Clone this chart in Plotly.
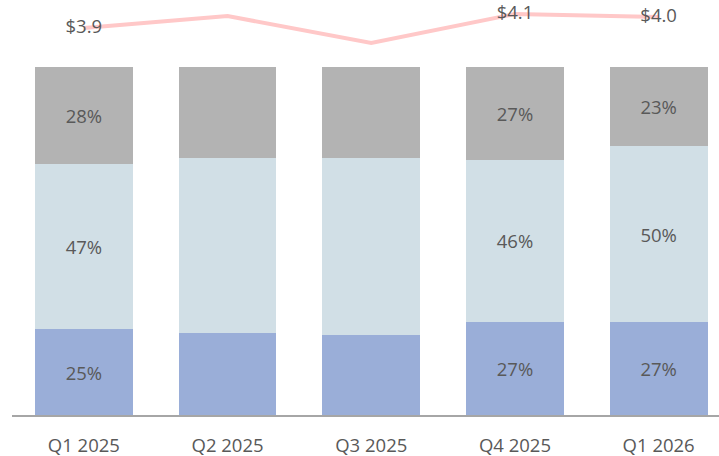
import plotly.graph_objects as go

quarters = ['Q1 2025', 'Q2 2025', 'Q3 2025', 'Q4 2025', 'Q1 2026']
share_bottom = [0.247, 0.236, 0.23, 0.267, 0.267]
share_middle = [0.474, 0.502, 0.509, 0.466, 0.506]
share_top = [0.279, 0.262, 0.261, 0.267, 0.227]
labels_bottom = ['25%', '', '', '27%', '27%']
labels_middle = ['47%', '', '', '46%', '50%']
labels_top = ['28%', '', '', '27%', '23%']
price = [3.92, 4.04, 3.77, 4.06, 4.03]
price_labels = ['$3.9', '', '', '$4.1', '$4.0']

font_txt = dict(family='Open Sans, sans-serif', size=18.5, color='#595959')

fig = go.Figure()

for vals, labs, col in [(share_bottom, labels_bottom, '#9AAED8'),
                        (share_middle, labels_middle, '#D1DFE6'),
                        (share_top, labels_top, '#B3B3B3')]:
    fig.add_trace(go.Bar(
        x=quarters, y=vals, text=labs,
        textposition='inside', insidetextanchor='middle',
        textfont=font_txt, texttemplate='%{text}',
        marker=dict(color=col, line=dict(width=0)),
        width=0.68, hoverinfo='skip'))

fig.add_trace(go.Scatter(
    x=quarters, y=price, yaxis='y2',
    mode='lines+text', text=price_labels, textposition='middle center',
    textfont=font_txt,
    line=dict(color='#FFC8C8', width=4),
    hoverinfo='skip'))

fig.update_layout(
    barmode='stack',
    showlegend=False,
    width=719, height=456,
    margin=dict(l=12, r=0, t=5, b=41),
    plot_bgcolor='white', paper_bgcolor='white',
    uniformtext=dict(mode=False),
    xaxis=dict(range=[-0.5, 4.42], showgrid=False,
               ticks='outside', ticklen=13, tickcolor='rgba(0,0,0,0)',
               showline=True, linecolor='#A6A6A6', linewidth=2,
               tickfont=font_txt),
    yaxis=dict(range=[0, 1.178], visible=False, showgrid=False),
    yaxis2=dict(range=[0.05, 4.15], overlaying='y', visible=False,
                showgrid=False),
)

fig.write_html('out.html', config={'displayModeBar': False},
               post_script="document.body.style.margin='0';")
